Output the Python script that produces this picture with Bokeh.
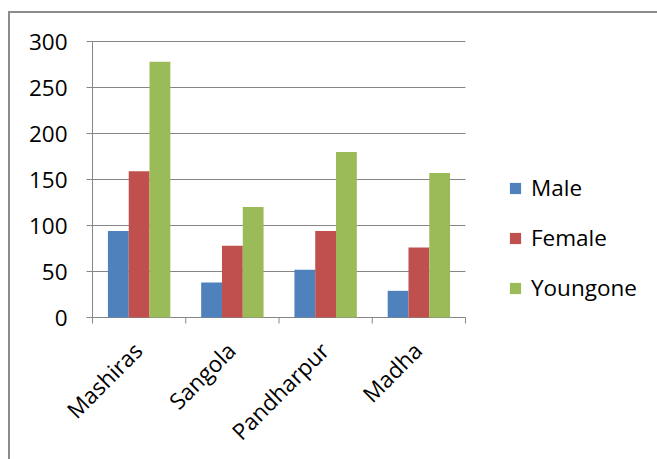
import math

from bokeh.embed import file_html
from bokeh.models import ColumnDataSource, Legend, LegendItem, Range1d
from bokeh.plotting import figure
from bokeh.resources import INLINE
from bokeh.transform import dodge

# Chart data
categories = ["Mashiras", "Sangola", "Pandharpur", "Madha"]
male = [94, 38, 52, 29]
female = [159, 78, 94, 76]
youngone = [278, 120, 180, 157]
series_names = ["Male", "Female", "Youngone"]
series_colors = ["#4F81BD", "#C0504D", "#9BBB59"]
y_ticks = [0, 50, 100, 150, 200, 250, 300]

FONT = "Open Sans"
FONT_SIZE = "22.5px"
GRID = "#868686"
BORDER = "#8c8c8c"

W, H = 657, 459
PLOT_LEFT, PLOT_RIGHT, PLOT_TOP, PLOT_BOTTOM = 92, 465, 41, 317
Y_MAX = 300

n = len(categories)
centers = [i + 0.5 for i in range(n)]
boundaries = [float(i) for i in range(n + 1)]

source = ColumnDataSource(dict(x=centers, Male=male, Female=female, Youngone=youngone))
cat_labels = ColumnDataSource(dict(x=centers, y=[0] * n, name=categories))
cat_ticks = ColumnDataSource(dict(x=boundaries, y=[0] * (n + 1)))
val_ticks = ColumnDataSource(dict(
    x0=[0] * len(y_ticks), x1=[n] * len(y_ticks), y=y_ticks,
    label=[str(t) for t in y_ticks],
))

# The frame covers the whole canvas; the plot area is the region
# 0..n (categories) by 0..Y_MAX (values) inside it, with axes, labels
# and legend drawn around it as glyphs.
px_x = (PLOT_RIGHT - PLOT_LEFT) / n
px_y = (PLOT_BOTTOM - PLOT_TOP) / Y_MAX
x_range = Range1d(-PLOT_LEFT / px_x, (W - PLOT_LEFT) / px_x)
y_range = Range1d(-(H - PLOT_BOTTOM) / px_y, Y_MAX + PLOT_TOP / px_y)

p = figure(
    width=W,
    height=H,
    x_range=x_range,
    y_range=y_range,
    x_axis_location=None,
    y_axis_location=None,
    output_backend="svg",
    toolbar_location=None,
    min_border=0,
)
p.grid.visible = False

# transparent canvas so the host background (chart-area border lines) shows through
p.border_fill_alpha = 0
p.background_fill_alpha = 0
p.outline_line_color = None
p.styles = {
    "background": (
        f"linear-gradient({BORDER},{BORDER}) 8px 11px / 2px 100% no-repeat, "
        f"linear-gradient({BORDER},{BORDER}) 8px 11px / 100% 2px no-repeat, white"
    )
}

# horizontal gridlines (the one at 0 is the category axis line)
p.segment(x0="x0", x1="x1", y0="y", y1="y", source=val_ticks, line_color=GRID, line_width=1)

bar_w = 0.223
offsets = [-bar_w, 0.0, bar_w]
renderers = []
for name, color, off in zip(series_names, series_colors, offsets):
    r = p.vbar(
        x=dodge("x", off),
        top=name,
        width=bar_w,
        source=source,
        fill_color=color,
        line_color=None,
    )
    renderers.append(r)

# value axis line, tick marks and labels
p.segment(x0=0, x1=0, y0=0, y1=Y_MAX, line_color=GRID, line_width=1)
p.ray(x="x0", y="y", source=val_ticks, length=6, length_units="screen",
      angle=math.pi, line_color=GRID, line_width=1)
p.text(x="x0", y="y", text="label", source=val_ticks,
       text_align="right", text_baseline="middle", x_offset=-25,
       text_font={"value": FONT}, text_font_size={"value": FONT_SIZE}, text_color="black")

# category boundary tick marks and rotated category labels
p.ray(x="x", y="y", source=cat_ticks, length=6, length_units="screen",
      angle=-math.pi / 2, line_color=GRID, line_width=1)
p.text(x="x", y="y", text="name", source=cat_labels,
       angle=math.pi / 4, text_align="right", text_baseline="middle",
       x_offset=-1, y_offset=29,
       text_font={"value": FONT}, text_font_size={"value": FONT_SIZE}, text_color="black")

legend = Legend(
    items=[LegendItem(label=nm, renderers=[r]) for nm, r in zip(series_names, renderers)],
    location=(508, 14 + H - PLOT_BOTTOM),
    orientation="vertical",
    glyph_width=14,
    glyph_height=14,
    label_standoff=9,
    spacing=19,
    padding=0,
    margin=0,
    border_line_color=None,
    background_fill_alpha=0,
    label_text_font=FONT,
    label_text_font_size=FONT_SIZE,
    label_text_color="black",
)
p.add_layout(legend)

open("out.html", "w").write(file_html(p, INLINE))
